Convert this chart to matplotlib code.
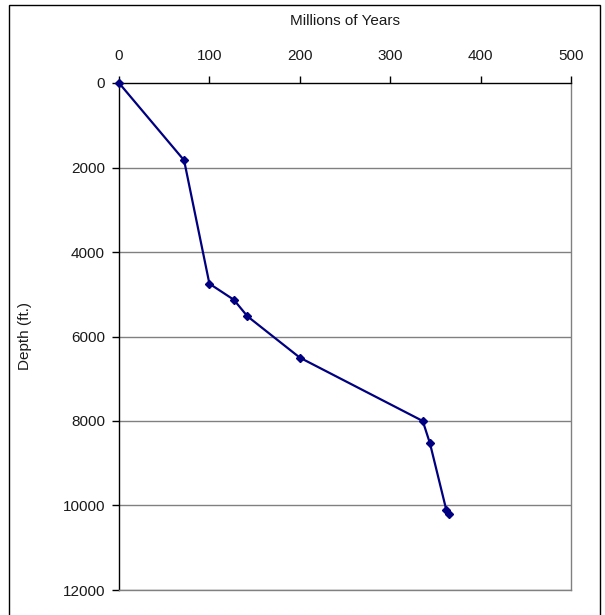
import matplotlib
matplotlib.use("Agg")
import matplotlib.pyplot as plt
from matplotlib.patches import Rectangle

plt.rcParams['font.family'] = ['Liberation Sans', 'DejaVu Sans']

age_myr = [0, 72, 100, 127, 142, 200, 336, 344, 362, 365]
depth_ft = [0, 1830, 4750, 5130, 5520, 6500, 8000, 8530, 10100, 10200]
x_ticks = [0, 100, 200, 300, 400, 500]
y_ticks = [0, 2000, 4000, 6000, 8000, 10000, 12000]

W, H = 605, 615
fig = plt.figure(figsize=(W / 100, H / 100), dpi=100)
L, R, T, B = 119, 571, 83, 590
ax = fig.add_axes([L / W, 1 - B / H, (R - L) / W, (B - T) / H])

ax.plot(age_myr, depth_ft, color='#000080', lw=1.6, marker='D', ms=3.8,
        markerfacecolor='#000080', markeredgecolor='#000080', zorder=5, clip_on=False)

FS = 11
TXT = '#1a1a1a'
ax.set_xlim(0, 500)
ax.set_ylim(12000, 0)
ax.set_xticks(x_ticks)
ax.set_yticks(y_ticks)
ax.xaxis.tick_top()
ax.xaxis.set_label_position('top')
ax.tick_params(axis='both', direction='out', length=5, width=1, color='black',
               labelsize=FS, labelcolor=TXT)
ax.tick_params(axis='x', pad=9.5)
ax.tick_params(axis='y', pad=5)
ax.set_xlabel('Millions of Years', fontsize=FS, labelpad=17, color=TXT)
ax.set_ylabel('Depth (ft.)', fontsize=FS, labelpad=22, color=TXT)

for yv in y_ticks[1:]:
    ax.axhline(yv, color='#808080', lw=1.0, zorder=1)

ax.spines['top'].set_color('black')
ax.spines['left'].set_color('black')
ax.spines['right'].set_color('#808080')
ax.spines['bottom'].set_color('#808080')
for s in ax.spines.values():
    s.set_linewidth(1.0)

fig.patches.append(Rectangle((9 / W, -0.05), (600 - 9) / W, 1.05 - 5 / H,
                             transform=fig.transFigure, fill=False,
                             edgecolor='black', lw=1.0))

fig.savefig('out.png', dpi=100)
